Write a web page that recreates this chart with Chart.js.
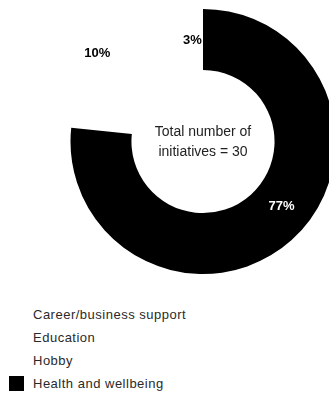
<!DOCTYPE html>
<html>
<head>
<meta charset="utf-8">
<script src="https://cdn.jsdelivr.net/npm/chart.js@4/dist/chart.umd.min.js"></script>
<style>
  html, body { margin: 0; padding: 0; background: #fff; overflow: hidden; width: 329px; height: 397px; }
  #wrap { position: absolute; left: 0; top: 0; width: 406px; height: 283px; }
  #legend { position: absolute; left: 0; top: 303px; font-family: "Liberation Sans", Arial, sans-serif; font-size: 13px; letter-spacing: 0.5px; color: #2a2a2a; }
  .item { position: relative; height: 23px; line-height: 23px; padding-left: 33px; white-space: nowrap; }
  .box { position: absolute; left: 9px; top: 4px; width: 15px; height: 15px; }
</style>
</head>
<body>
<div id="wrap"><canvas id="chart" width="406" height="283"></canvas></div>
<div id="legend"></div>
<script>
const categories = ['Career/business support', 'Education', 'Hobby', 'Health and wellbeing'];
const counts = [3, 3, 1, 23];
const colors = ['#ffffff', '#ffffff', '#ffffff', '#000000'];
const labelColors = ['#000000', '#000000', '#000000', '#ffffff'];
const centerLines = ['Total number of', 'initiatives = 30'];

const total = counts.reduce((a, b) => a + b, 0);
// slices start at 12 o'clock minus the white part, so the black one begins at the top
const whiteShare = counts.slice(0, 3).reduce((a, b) => a + b, 0) / total;

const sliceLabels = {
  id: 'sliceLabels',
  afterDatasetsDraw(chart) {
    const ctx = chart.ctx;
    const arcs = chart.getDatasetMeta(0).data;
    ctx.save();
    ctx.textAlign = 'center';
    ctx.textBaseline = 'middle';
    arcs.forEach((arc, i) => {
      if (i === 0) return; // the two 10% slices share one label
      const pct = Math.round(counts[i] / total * 100) + '%';
      let angle, r;
      if (i === 1) {
        angle = arc.startAngle - 0.04;
        r = arc.outerRadius + 5;
      } else if (i === 3) {
        angle = arc.startAngle + (arc.endAngle - arc.startAngle) * 0.47;
        r = (arc.innerRadius + arc.outerRadius) / 2;
      } else {
        angle = (arc.startAngle + arc.endAngle) / 2;
        r = (arc.innerRadius + arc.outerRadius) / 2;
      }
      const x = arc.x + Math.cos(angle) * r;
      const y = arc.y + Math.sin(angle) * r;
      ctx.fillStyle = labelColors[i];
      ctx.font = 'bold 13px "Liberation Sans", Arial, sans-serif';
      ctx.fillText(pct, x, y);
    });
    const a = arcs[0];
    ctx.fillStyle = '#222';
    ctx.font = '14px "Liberation Sans", Arial, sans-serif';
    ctx.fillText(centerLines[0], a.x, a.y - 9);
    ctx.fillText(centerLines[1], a.x, a.y + 11);
    ctx.restore();
  }
};

new Chart(document.getElementById('chart'), {
  type: 'doughnut',
  data: {
    labels: categories,
    datasets: [{
      data: counts,
      backgroundColor: colors,
      borderWidth: 0
    }]
  },
  options: {
    responsive: false,
    animation: false,
    cutout: '54%',
    rotation: -whiteShare * 360,
    layout: { padding: { top: 9, bottom: 9 } },
    plugins: { legend: { display: false }, tooltip: { enabled: false } }
  },
  plugins: [sliceLabels]
});

const legend = document.getElementById('legend');
categories.forEach((name, i) => {
  const item = document.createElement('div');
  item.className = 'item';
  item.innerHTML = `<span class="box" style="background:${colors[i]}"></span>${name}`;
  legend.appendChild(item);
});
</script>
</body>
</html>
